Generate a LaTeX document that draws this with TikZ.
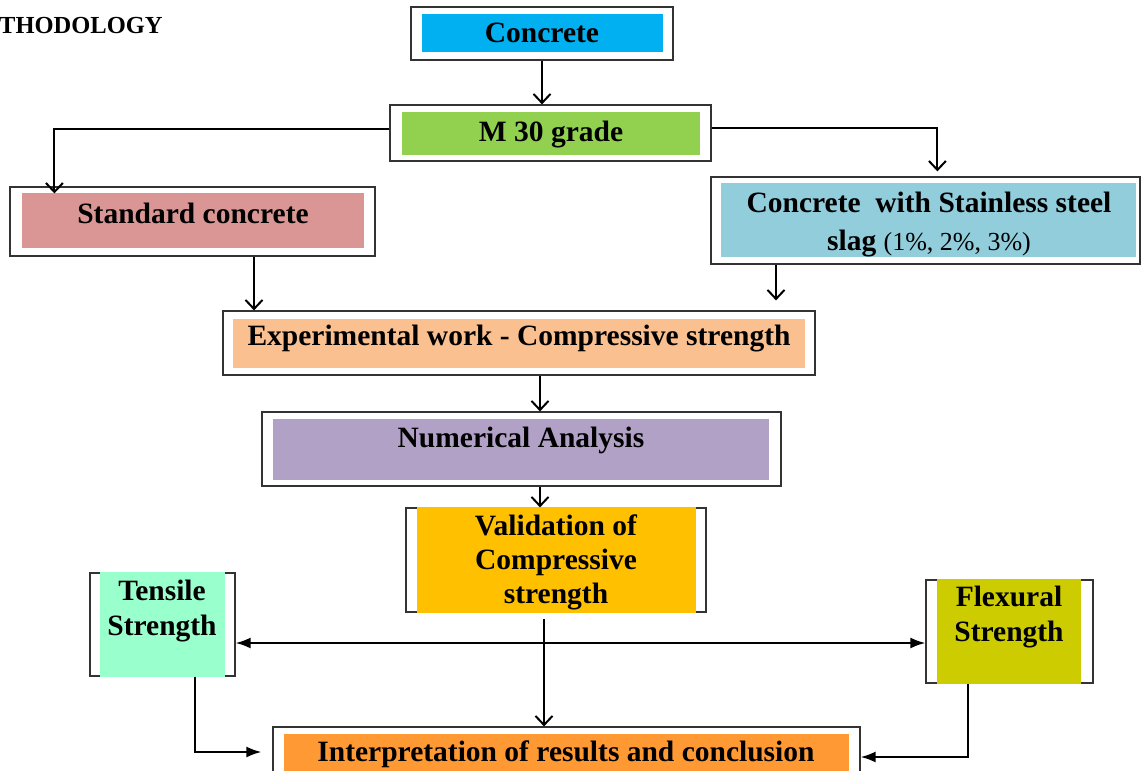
\documentclass[tikz,border=0pt]{standalone}
\usepackage{fontspec}
\setmainfont{Liberation Serif}
\usetikzlibrary{arrows.meta}

\definecolor{cconc}{HTML}{00B0F0}
\definecolor{cgrade}{HTML}{92D050}
\definecolor{cstd}{HTML}{D99694}
\definecolor{cslag}{HTML}{92CDDC}
\definecolor{cexp}{HTML}{FAC090}
\definecolor{cnum}{HTML}{B2A1C7}
\definecolor{cval}{HTML}{FFC000}
\definecolor{ctens}{HTML}{99FFCC}
\definecolor{cflex}{HTML}{CCCC00}
\definecolor{cint}{HTML}{FF9933}

\tikzstyle{frame}=[draw=black!80, line width=1.2pt, fill=white, inner sep=0pt]
\tikzstyle{panel}=[inner sep=0pt]
\tikzstyle{txt}=[inner sep=0pt, align=center, text height=20pt, text depth=0pt, font=\fontsize{29.5}{35}\selectfont\bfseries]
\tikzstyle{flow}=[line width=2pt, -{Straight Barb[length=9pt,width=17pt]}]
\tikzstyle{feed}=[line width=2pt, -{Latex[length=15pt,width=11pt]}]
\tikzstyle{both}=[line width=2pt, {Latex[length=15pt,width=11pt]}-{Latex[length=15pt,width=11pt]}]

\begin{document}
\begin{tikzpicture}[x=1pt, y=-1pt]
      \useasboundingbox (0,0) rectangle (1144,771);
      \node[txt, anchor=west, font=\fontsize{24.5}{30}\selectfont\bfseries] (title) at (-1,23) {THODOLOGY};

      \node[frame, minimum width=262, minimum height=53] (conc) at (542,33.5) {};
      \node[panel, fill=cconc, minimum width=241, minimum height=38] (concP) at (542.5,33) {};
      \node[txt] (concT) at (542,32.5) {Concrete};

      \node[frame, minimum width=321, minimum height=56] (grade) at (550.5,133) {};
      \node[panel, fill=cgrade, minimum width=298, minimum height=43] (gradeP) at (551,133.5) {};
      \node[txt] (gradeT) at (551,131.5) {M 30 grade};

      \node[frame, minimum width=365, minimum height=69] (std) at (192.5,221.5) {};
      \node[panel, fill=cstd, minimum width=342, minimum height=55] (stdP) at (193,220.5) {};
      \node[txt] (stdT) at (193,213) {Standard concrete};

      \node[frame, minimum width=429, minimum height=87] (slag) at (925.5,220.5) {};
      \node[panel, fill=cslag, minimum width=415, minimum height=74] (slagP) at (928.5,220) {};
      \node[txt, text height=58pt, font=\fontsize{29.5}{38}\selectfont\bfseries] (slagT) at (929,221.5)
            {Concrete\ \ with Stainless steel\\slag {\mdseries\fontsize{26}{38}\selectfont(1\%, 2\%, 3\%)}};

      \node[frame, minimum width=592, minimum height=64] (exp) at (519,343) {};
      \node[panel, fill=cexp, minimum width=572, minimum height=49] (expP) at (519,343.5) {};
      \node[txt] (expT) at (519,335) {Experimental work - Compressive strength};

      \node[frame, minimum width=519, minimum height=74] (num) at (521.5,449) {};
      \node[panel, fill=cnum, minimum width=496, minimum height=61] (numP) at (521,449.5) {};
      \node[txt] (numT) at (521,437.5) {Numerical Analysis};

      \node[frame, minimum width=300, minimum height=104] (val) at (556,560) {};
      \node[panel, fill=cval, minimum width=279, minimum height=105.2] (valP) at (556.5,560) {};
      \node[txt, text height=88pt, font=\fontsize{29.5}{34}\selectfont\bfseries] (valT) at (556,559) {Validation of\\Compressive\\strength};

      \node[frame, minimum width=145, minimum height=103] (tens) at (162.5,624.5) {};
      \node[panel, fill=ctens, minimum width=125, minimum height=104.2] (tensP) at (162.5,624.5) {};
      \node[txt, text height=55pt] (tensT) at (162,607.5) {Tensile\\Strength};

      \node[frame, minimum width=167, minimum height=103] (flex) at (1009.5,631.5) {};
      \node[panel, fill=cflex, minimum width=144, minimum height=104.2] (flexP) at (1009,631.5) {};
      \node[txt, text height=55pt] (flexT) at (1009,614) {Flexural\\Strength};

      \node[frame, minimum width=587, minimum height=54] (intp) at (566.5,754) {};
      \node[panel, fill=cint, minimum width=565, minimum height=42] (intpP) at (566.5,755) {};
      \node[txt] (intpT) at (566,751.5) {Interpretation of results and conclusion};

      % connectors
      \draw[flow] (conc.south) -- (conc.south |- grade.north);
      \draw[flow] ([yshift=4]grade.west) -| ([xshift=45, yshift=-7]std.north west);
      \draw[flow] ([yshift=5]grade.east) -| ([xshift=227, yshift=5]slag.north west);
      \draw[flow] ([xshift=61.5]std.south) -- ([xshift=61.5]std.south |- exp.north);
      \draw[flow, shorten >=10pt] ([xshift=-149.5]slag.south) -- ([xshift=-149.5]slag.south |- exp.north);
      \draw[flow] ([xshift=21]exp.south) -- ([xshift=21]exp.south |- num.north);
      \draw[flow] ([xshift=18.5]num.south) -- ([xshift=18.5]num.south |- val.north);
      \draw[flow] ([xshift=-12, yshift=-6]val.south) -- ([xshift=-12]val.south |- intp.north);
      \draw[both] ([yshift=-18.5]tens.east) -- ([yshift=-18.5]tens.east -| flex.west);
      \draw[feed, shorten >=11pt] ([xshift=32.5]tens.south) |- ([yshift=2]intp.west);
      \draw[feed] ([xshift=-41.5]flex.south) |- ([yshift=-3]intp.east);
\end{tikzpicture}
\end{document}
